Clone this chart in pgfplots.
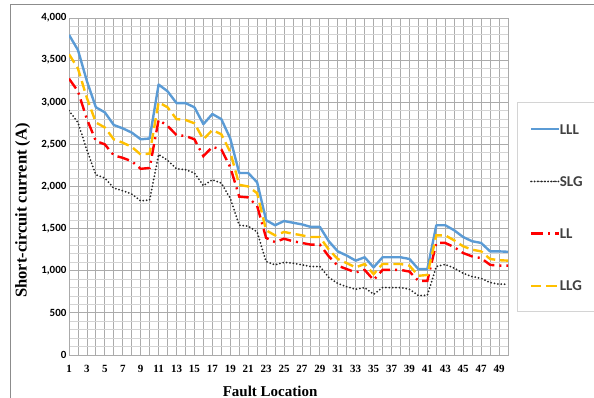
\documentclass[border=0pt]{standalone}
\usepackage{fontspec}
\usepackage{pgfplots}
\usepackage{pgfplotstable}
\pgfplotsset{compat=1.18}
\setmainfont{Liberation Serif}
\newfontfamily\carlito{Carlito}
\definecolor{cLLL}{HTML}{5B9BD5}
\definecolor{cLL}{HTML}{FF0000}
\definecolor{cLLG}{HTML}{FFC000}
\definecolor{gmaj}{HTML}{ABABAB}
\definecolor{gmin}{HTML}{D4D4D4}
\definecolor{frame}{HTML}{8C8C8C}
\definecolor{legtxt}{HTML}{404040}

\pgfplotstableread{
x LLL SLG LL LLG
1 3800 2900 3280 3570
2 3620 2760 3130 3400
3 3250 2430 2800 3050
4 2940 2140 2540 2760
5 2880 2100 2500 2700
6 2730 1980 2370 2560
7 2690 1950 2340 2520
8 2640 1910 2300 2470
9 2560 1830 2210 2380
10 2570 1840 2220 2390
11 3210 2380 2790 3000
12 3130 2310 2720 2940
13 2990 2210 2610 2800
14 2990 2200 2600 2790
15 2940 2160 2560 2750
16 2740 2010 2360 2560
17 2860 2080 2470 2670
18 2800 2040 2440 2620
19 2570 1860 2230 2410
20 2160 1540 1880 2020
21 2160 1530 1870 2000
22 2050 1460 1770 1920
23 1600 1110 1390 1480
24 1540 1070 1340 1420
25 1590 1100 1380 1460
26 1570 1090 1350 1440
27 1550 1070 1330 1420
28 1520 1050 1310 1400
29 1520 1050 1310 1400
30 1350 920 1170 1250
31 1230 850 1060 1140
32 1180 810 1020 1090
33 1120 780 980 1040
34 1160 800 1010 1080
35 1040 720 890 960
36 1160 800 1010 1080
37 1160 800 1010 1080
38 1160 800 1010 1080
39 1140 780 990 1060
40 1020 705 880 940
41 1020 710 880 950
42 1540 1050 1330 1420
43 1540 1075 1330 1420
44 1480 1030 1280 1360
45 1400 970 1210 1290
46 1350 930 1170 1250
47 1330 910 1150 1230
48 1230 860 1070 1140
49 1230 840 1060 1125
50 1225 840 1060 1120
}\data

\begin{document}
\begin{tikzpicture}
\useasboundingbox (0pt,0pt) rectangle (594pt,398pt);
\draw[frame, line width=1pt] (10.5pt,-10pt) rectangle (610pt,393pt);
\draw[gmin, line width=1pt] (517.7pt,86pt) rectangle (610pt,295pt);
\begin{axis}[
  at={(69pt,43pt)}, anchor=south west,
  scale only axis, width=439pt, height=337pt,
  xmin=1, xmax=50, ymin=0, ymax=4000,
  xtick={1,...,50},
  xticklabels={1,,3,,5,,7,,9,,11,,13,,15,,17,,19,,21,,23,,25,,27,,29,,31,,33,,35,,37,,39,,41,,43,,45,,47,,49,},
  ytick={0,500,...,4000},
  minor ytick={0,100,...,4000},
  scaled y ticks=false,
  grid=both,
  major grid style={draw=gmaj, line width=0.8pt},
  minor grid style={draw=gmin, line width=0.8pt},
  axis line style={draw=gmaj, line width=0.8pt},
  major tick length=0pt, minor tick length=0pt,
  xticklabel style={font=\fontsize{11}{12}\selectfont\bfseries, /pgf/number format/assume math mode=true, yshift=-7pt},
  yticklabel style={font=\fontsize{11}{12}\selectfont\carlito\bfseries, /pgf/number format/assume math mode=true, xshift=1pt},
  xlabel={Fault Location},
  xlabel style={font=\fontsize{15}{17}\selectfont\bfseries, at={(axis description cs:0.458,-0.107)}, anchor=center},
  ylabel={Short-circuit current (A)},
  ylabel style={font=\fontsize{16.5}{18}\selectfont\bfseries, at={(axis description cs:-0.1055,0.4288)}, anchor=center},
  legend cell align=left,
  legend style={draw=none, fill=none, inner sep=0pt, outer sep=0pt,
    at={(axis description cs:1.0501,0.688)}, anchor=north west,
    row sep=39.9pt,
    font=\fontsize{15}{16}\selectfont\carlito\bfseries\color{legtxt},
    nodes={inner sep=0pt, text height=11pt, text depth=1.3pt}},
]
\addplot[cLLL, line width=2.4pt, line join=round,
  legend image code/.code={\path (0pt,0pt) -- (27.5pt,0pt); \draw[cLLL, line width=2.4pt] (0pt,0pt) -- (25.7pt,0pt);}]
  table[x=x, y=LLL] {\data};
\addlegendentry{LLL}
\addplot[black!85, line width=2pt, line cap=round, dash pattern=on 0pt off 3.4pt,
  legend image code/.code={\path (0pt,0pt) -- (27.5pt,0pt); \draw[black!85, line cap=round, line width=1.3pt, dash pattern=on 0pt off 2.7pt] (0.7pt,0pt) -- (25.7pt,0pt);}]
  table[x=x, y=SLG] {\data};
\addlegendentry{SLG}
\addplot[cLL, line width=2.4pt, dash pattern=on 12pt off 5pt on 2pt off 5pt,
  legend image code/.code={\path (0pt,0pt) -- (27.5pt,0pt); \draw[cLL, line width=2.4pt] (0pt,0pt) -- (17.7pt,0pt);}]
  table[x=x, y=LL] {\data};
\addlegendentry{LL}
\addplot[cLLG, line width=2.4pt, dash pattern=on 10pt off 5pt,
  legend image code/.code={\path (0pt,0pt) -- (27.5pt,0pt); \draw[cLLG, line width=2.4pt, dash pattern=on 9.3pt off 7pt] (0pt,0pt) -- (25.7pt,0pt);}]
  table[x=x, y=LLG] {\data};
\addlegendentry{LLG}
\end{axis}
\end{tikzpicture}
\end{document}
